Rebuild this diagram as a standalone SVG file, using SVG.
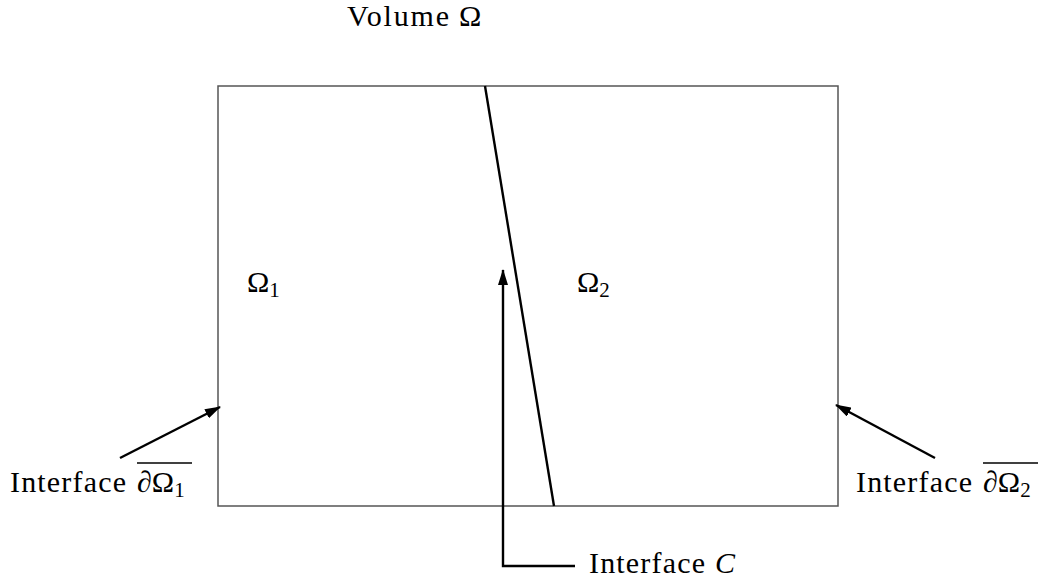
<svg xmlns="http://www.w3.org/2000/svg" width="1048" height="583" viewBox="0 0 1048 583">
  <style>
    text { font-family: "Liberation Serif", "DejaVu Serif", serif; font-size: 30px; fill: #000; }
    .it { font-style: italic; }
    .sub { font-size: 21px; }
    .conn { stroke: #000; stroke-width: 2.4; fill: none; }
    .bar { stroke: #000; stroke-width: 1.3; }
  </style>
  <defs>
    <marker id="ah" viewBox="0 0 16 10" refX="15" refY="5" markerWidth="16" markerHeight="10" markerUnits="userSpaceOnUse" orient="auto">
      <path d="M0,0 L16,5 L0,10 Z" fill="#000"/>
    </marker>
  </defs>
  <g id="volume">
    <rect x="218" y="86" width="620" height="420" fill="none" stroke="#555" stroke-width="1.5"/>
    <text x="347" y="26" textLength="102" lengthAdjust="spacing">Volume</text>
    <text x="459" y="26">Ω</text>
  </g>
  <g id="omega1"><text x="247" y="292">Ω<tspan class="sub" dy="5">1</tspan></text></g>
  <g id="omega2"><text x="577" y="292">Ω<tspan class="sub" dy="5">2</tspan></text></g>
  <g id="interfaceC">
    <line x1="485" y1="86" x2="554" y2="506" stroke="#000" stroke-width="2.4"/>
    <text x="589" y="573" textLength="116" lengthAdjust="spacing">Interface</text>
    <text x="715" y="573" class="it">C</text>
  </g>
  <g id="boundary1">
    <text x="10" y="492" textLength="116" lengthAdjust="spacing">Interface</text>
    <text x="137" y="492">∂Ω<tspan class="sub" dy="5">1</tspan></text>
    <line class="bar" x1="137" y1="463" x2="192" y2="463"/>
  </g>
  <g id="boundary2">
    <text x="856" y="492" textLength="116" lengthAdjust="spacing">Interface</text>
    <text x="983" y="492">∂Ω<tspan class="sub" dy="5">2</tspan></text>
    <line class="bar" x1="983" y1="463" x2="1038" y2="463"/>
  </g>
  <g id="connectors">
    <path class="conn" d="M575,566 H503 V270" marker-end="url(#ah)"/>
    <line class="conn" x1="120" y1="458" x2="220" y2="407" marker-end="url(#ah)"/>
    <line class="conn" x1="935" y1="458" x2="836" y2="405" marker-end="url(#ah)"/>
  </g>
</svg>
